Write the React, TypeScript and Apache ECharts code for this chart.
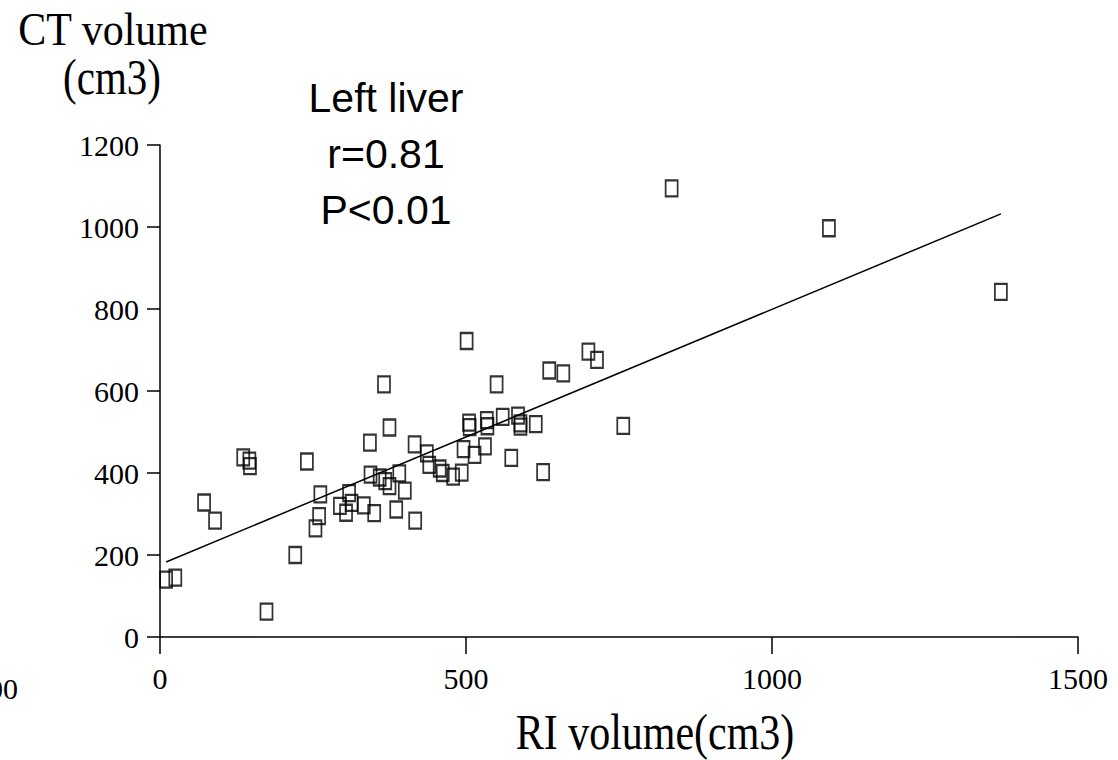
import { useEffect, useRef } from "react";
import * as echarts from "echarts";

const riVolume = [
  10, 25, 72, 90, 136, 146, 147, 174, 221, 240, 254, 260, 262, 294, 304, 309,
  313, 333, 350, 343, 344, 359, 368, 375, 366, 375, 386, 391, 400, 416, 417,
  436, 440, 457, 462, 479, 493, 496, 501, 505, 506, 514, 531, 534, 535, 550,
  560, 585, 589, 589, 574, 614, 626, 636, 659, 700, 714, 757, 836, 1093, 1374,
];
const ctVolume = [
  140, 145, 328, 284, 438, 430, 417, 62, 200, 428, 265, 295, 348, 320, 303, 351,
  327, 321, 302, 474, 396, 389, 380, 368, 616, 511, 311, 399, 357, 470, 284,
  448, 420, 411, 400, 391, 401, 458, 722, 523, 512, 444, 465, 529, 514, 616,
  537, 540, 521, 513, 437, 519, 402, 650, 643, 696, 676, 515, 1094, 997, 842,
];
const fitLineX = [10, 1374];
const fitLineY = [183, 1032];
const xTickValues = [0, 500, 1000, 1500];
const yTickValues = [0, 200, 400, 600, 800, 1000, 1200];
const annotationLines = ["Left liver", "r=0.81", "P<0.01"];
const yTitleLines = ["CT volume", "(cm3)"];
const xTitle = "RI volume(cm3)";
const strayLabel = "500";

const SERIF = "'Liberation Serif', 'Times New Roman', serif";
const SANS = "'Liberation Sans', Arial, sans-serif";

export default function App() {
  const ref = useRef<HTMLDivElement>(null);
  useEffect(() => {
    if (!ref.current) return;
    const chart = echarts.init(ref.current, null, { renderer: "svg" });
    const points = riVolume.map((x, i) => [x, ctVolume[i]]);
    const line = fitLineX.map((x, i) => [x, fitLineY[i]]);
    const xMin = xTickValues[0];
    const xMax = xTickValues[xTickValues.length - 1];
    const yMin = yTickValues[0];
    const yMax = yTickValues[yTickValues.length - 1];
    const plain = (v: number) => String(v);
    chart.setOption({
      animation: false,
      backgroundColor: "#fff",
      grid: {
        left: 160,
        right: 40,
        top: 145,
        bottom: 123,
        containLabel: false,
        outerBoundsMode: "none",
      },
      xAxis: {
        type: "value",
        min: xMin,
        max: xMax,
        interval: xTickValues[1] - xTickValues[0],
        splitLine: { show: false },
        axisLine: { show: true, onZero: false, lineStyle: { color: "#000", width: 1.5 } },
        axisTick: { show: true, inside: false, length: 17, lineStyle: { color: "#000", width: 1.5 } },
        axisLabel: { fontSize: 30, fontFamily: SERIF, color: "#000", margin: 26, formatter: plain },
      },
      yAxis: {
        type: "value",
        min: yMin,
        max: yMax,
        interval: yTickValues[1] - yTickValues[0],
        splitLine: { show: false },
        axisLine: { show: true, onZero: false, lineStyle: { color: "#000", width: 1.5 } },
        axisTick: { show: true, inside: false, length: 13, lineStyle: { color: "#000", width: 1.5 } },
        axisLabel: { fontSize: 30, fontFamily: SERIF, color: "#000", margin: 21, formatter: plain },
      },
      series: [
        {
          type: "scatter",
          data: points,
          symbol: "rect",
          symbolSize: [12, 16],
          itemStyle: { color: "rgba(255,255,255,0)", borderColor: "#000", borderWidth: 2 },
          z: 3,
        },
        {
          type: "line",
          data: line,
          symbol: "none",
          lineStyle: { color: "#000", width: 1.5 },
          z: 2,
        },
      ],
      graphic: [
        {
          type: "text",
          x: 113,
          y: 30,
          scaleY: 1.1,
          style: { text: yTitleLines[0], font: `42px ${SERIF}`, fill: "#000", align: "center", verticalAlign: "middle" },
        },
        {
          type: "text",
          x: 112,
          y: 77,
          scaleY: 1.25,
          style: { text: yTitleLines[1], font: `41px ${SERIF}`, fill: "#000", align: "center", verticalAlign: "middle" },
        },
        {
          type: "text",
          x: 655,
          y: 732,
          scaleY: 1.2,
          style: { text: xTitle, font: `42px ${SERIF}`, fill: "#000", align: "center", verticalAlign: "middle" },
        },
        {
          type: "text",
          x: 18,
          y: 688,
          style: { text: strayLabel, font: `30px ${SERIF}`, fill: "#000", align: "right", verticalAlign: "middle" },
        },
        ...annotationLines.map((t, i) => ({
          type: "text",
          x: 386,
          y: 98 + i * 56,
          style: { text: t, font: `41px ${SANS}`, fill: "#000", align: "center", verticalAlign: "middle" },
        })),
      ],
    });
    return () => chart.dispose();
  }, []);
  return (
    <div
      ref={ref}
      style={{ position: "absolute", left: 0, top: 0, width: 1118, height: 760, background: "#fff" }}
    />
  );
}
